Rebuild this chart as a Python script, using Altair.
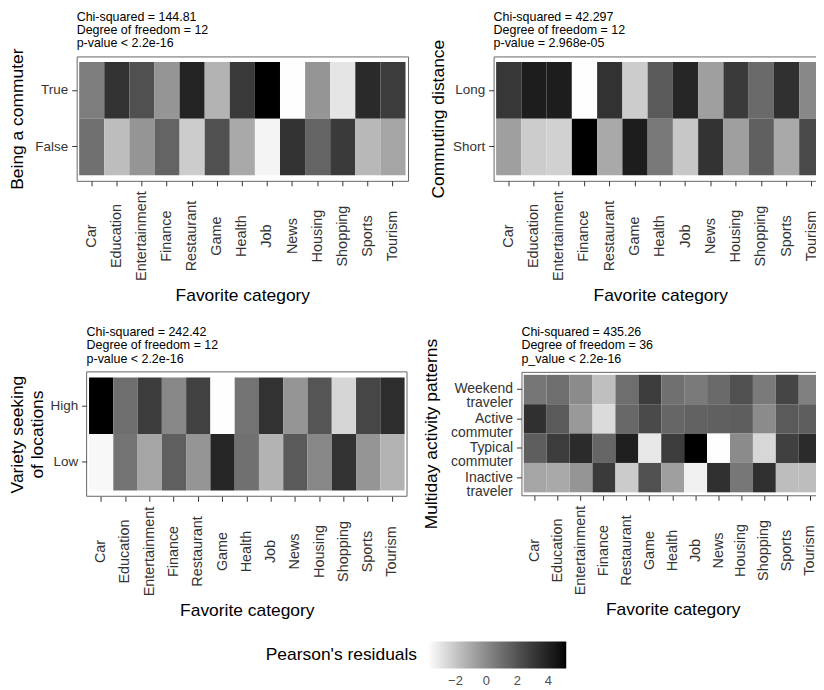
import altair as alt
import pandas as pd

categories = ["Car", "Education", "Entertainment", "Finance", "Restaurant", "Game",
              "Health", "Job", "News", "Housing", "Shopping", "Sports", "Tourism"]

commuter_rows = ["True", "False"]
commuter_true = [0.49, 3.3, 2.13, -0.37, 3.95, -1.37, 2.97, 5.15, -3.75, -0.37, -2.98, 3.64, 2.9]
commuter_false = [0.94, -1.69, -0.37, 1.38, -2.18, 2.13, -1.04, -3.45, 3.3, 1.38, 2.97, -1.53, -0.88]

distance_rows = ["Long", "Short"]
distance_long = [3.1, 4.18, 4.18, -3.75, 3.3, -2.18, 1.75, 3.82, -0.71, 2.97, 1.15, 3.4, 0.1]
distance_short = [-0.71, -2.18, -2.33, 5.15, -1.04, 4.18, 0.66, -2.02, 3.26, -0.71, 1.53, -1.04, 2.36]

variety_rows = ["High", "Low"]
variety_high = [5.15, 1.01, 2.9, 0.14, 2.7, -3.75, 0.83, 3.3, -0.37, 1.94, -2.49, 2.5, 3.52]
variety_low = [-3.55, 0.83, -0.88, 1.57, -0.37, 3.82, 0.94, -1.37, 1.75, 0.14, 3.3, -0.37, -1.37]

pattern_rows = ["Weekend traveler", "Active commuter", "Typical commuter", "Inactive traveler"]
pattern_weekend = [0.72, 1.01, -0.03, -1.75, 1.01, 2.9, 0.94, 0.59, 1.15, 2.13, 0.59, 2.55, 0.38]
pattern_active = [3.4, 1.75, -0.5, -2.65, 1.22, 2.36, 1.3, 1.45, 1.53, 1.6, -0.03, 1.75, 1.6]
pattern_typical = [1.6, 2.9, 3.58, 1.3, 4.1, -3.05, 2.9, 5.15, -3.75, -0.03, -2.52, 2.74, 3.58]
pattern_inactive = [-0.91, -1.04, -0.37, 2.97, -2.15, 2.13, -0.71, -3.3, 3.4, 0.7, 3.4, -1.69, -1.69]

stats_commuter = ["Chi-squared = 144.81", "Degree of freedom = 12", "p-value < 2.2e-16"]
stats_distance = ["Chi-squared = 42.297", "Degree of freedom = 12", "p-value = 2.968e-05"]
stats_variety = ["Chi-squared = 242.42", "Degree of freedom = 12", "p-value < 2.2e-16"]
stats_pattern = ["Chi-squared = 435.26", "Degree of freedom = 36", "p_value < 2.2e-16"]

legend_ticks = [-2, 0, 2, 4]
residual_range = [-3.78, 5.16]

FONT = "Liberation Sans"
FRAME = "#666666"


def panel(rows, series, ytitle, stats, width, height, ytp, multiline=False, inset=0,
          ylabel_size=13.5):
    records = []
    for r, vals in zip(rows, series):
        for c, v in zip(categories, vals):
            records.append({"cat": c, "grp": r, "res": v})
    df = pd.DataFrame(records)

    xaxis = alt.Axis(title="Favorite category", labelAngle=270, labelAlign="center",
                     labelBaseline="middle", labelPadding=50, tickSize=5,
                     labelFontSize=14.5, labelColor="#333333", tickColor="#333333",
                     titleFontSize=17.5, titleFontWeight="normal", titleColor="black",
                     titlePadding=6, domain=False, grid=False, labelOverlap=False)
    ykw = dict(title=ytitle, tickSize=5, labelPadding=4, labelFontSize=ylabel_size,
               labelColor="#333333", tickColor="#333333", titleFontSize=17.5,
               titleFontWeight="normal", titleColor="black", titlePadding=ytp,
               domain=False, grid=False)
    if multiline:
        ykw["labelExpr"] = "split(datum.label, ' ')"
        ykw["labelLineHeight"] = 14
    if inset:
        ykw["offset"] = -inset
    yaxis = alt.Axis(**ykw)

    legend = alt.Legend(title="Pearson's residuals", orient="none", legendX=190, legendY=588,
                        direction="horizontal", titleOrient="left", gradientLength=139,
                        gradientThickness=27, values=legend_ticks, titleFontSize=17.5,
                        titleFontWeight="normal", titleColor="black", labelFontSize=13,
                        labelColor="#4d4d4d", titlePadding=10, gradientStrokeWidth=0,
                        labelOffset=7)

    xscale = alt.Scale(paddingInner=0, paddingOuter=0.1)
    if inset:
        xscale = alt.Scale(paddingInner=0, paddingOuter=0.1, range=[inset, width])

    heat = alt.Chart(df).mark_rect().encode(
        x=alt.X("cat:N", sort=categories, scale=xscale, axis=xaxis),
        y=alt.Y("grp:N", sort=rows,
                scale=alt.Scale(paddingInner=0, paddingOuter=0.1), axis=yaxis),
        color=alt.Color("res:Q", scale=alt.Scale(domain=residual_range,
                                                 range=["#ffffff", "#000000"],
                                                 interpolate="lab"),
                        legend=legend),
    )
    ann = alt.Chart(pd.DataFrame({"t": ["\n".join(stats)]})).mark_text(
        align="left", baseline="top", fontSize=12.5, lineHeight=13.5, lineBreak="\n",
        color="black", font=FONT
    ).encode(x=alt.value(inset), y=alt.value(-46), text="t:N")
    layers = [heat, ann]
    if inset:
        frame = alt.Chart(pd.DataFrame({"t": [0]})).mark_rect(
            filled=False, stroke=FRAME, strokeWidth=1).encode(
            x=alt.value(inset), x2=alt.value(width), y=alt.value(0), y2=alt.value(height))
        layers.append(frame)
    ch = alt.layer(*layers).properties(width=width, height=height)
    if inset:
        ch = ch.properties(view=alt.ViewBackground(stroke="transparent"))
    return ch


p1 = panel(commuter_rows, [commuter_true, commuter_false], "Being a commuter",
           stats_commuter, 333, 125, 8)
p2 = panel(distance_rows, [distance_long, distance_short], "Commuting distance",
           stats_distance, 335, 125, 5)
p3 = panel(variety_rows, [variety_high, variety_low], ["Variety seeking", "of locations"],
           stats_variety, 332, 125, 4, inset=10)
p4 = panel(pattern_rows, [pattern_weekend, pattern_active, pattern_typical, pattern_inactive],
           "Multiday activity patterns", stats_pattern, 304, 124, 10, multiline=True,
           ylabel_size=14)

chart = alt.vconcat(
    alt.hconcat(p1, p2, spacing=20),
    alt.hconcat(p3, p4, spacing=14),
    spacing=20,
).properties(
    padding={"left": 0, "top": 0, "right": -12, "bottom": 0}
).configure(font=FONT).configure_view(stroke=FRAME, strokeWidth=1)

chart.save("out.html", embed_options={"renderer": "svg", "actions": False})
